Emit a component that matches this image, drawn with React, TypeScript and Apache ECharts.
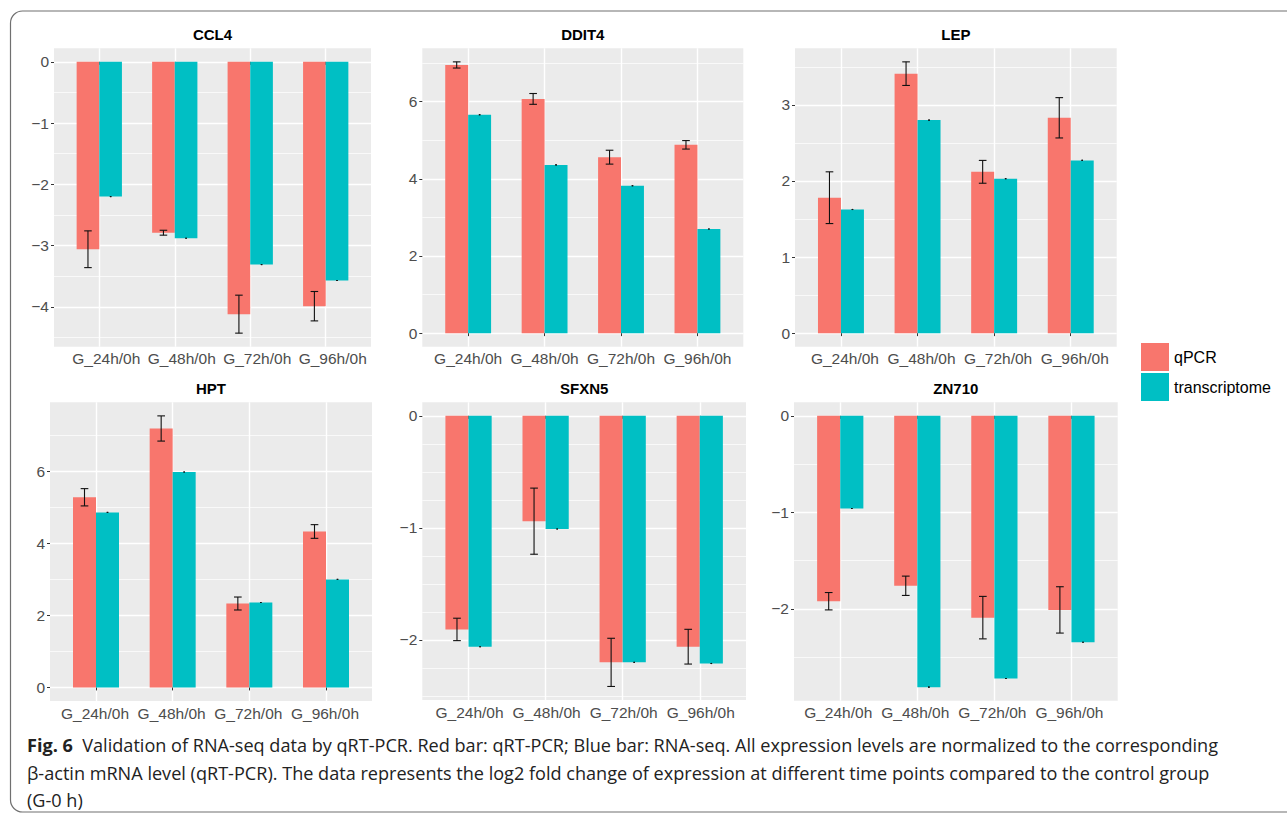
import React, { useEffect, useRef } from "react";
import * as echarts from "echarts";

// ---------- data ----------
const categories = ["G_24h/0h", "G_48h/0h", "G_72h/0h", "G_96h/0h"];
const genes = ["CCL4", "DDIT4", "LEP", "HPT", "SFXN5", "ZN710"];

const ccl4Qpcr = [-3.06, -2.79, -4.12, -3.99];
const ccl4Sd = [0.3, 0.04, 0.31, 0.24];
const ccl4Trans = [-2.2, -2.88, -3.31, -3.57];

const ddit4Qpcr = [6.95, 6.07, 4.56, 4.88];
const ddit4Sd = [0.08, 0.14, 0.18, 0.11];
const ddit4Trans = [5.66, 4.36, 3.82, 2.7];

const lepQpcr = [1.78, 3.41, 2.12, 2.83];
const lepSd = [0.34, 0.155, 0.15, 0.265];
const lepTrans = [1.625, 2.8, 2.03, 2.27];

const hptQpcr = [5.28, 7.19, 2.33, 4.33];
const hptSd = [0.24, 0.35, 0.18, 0.19];
const hptTrans = [4.86, 5.98, 2.36, 3.0];

const sfxn5Qpcr = [-1.906, -0.94, -2.2, -2.06];
const sfxn5Sd = [0.1, 0.295, 0.215, 0.155];
const sfxn5Trans = [-2.06, -1.01, -2.2, -2.21];

const zn710Qpcr = [-1.92, -1.76, -2.09, -2.01];
const zn710Sd = [0.09, 0.1, 0.22, 0.24];
const zn710Trans = [-0.96, -2.81, -2.72, -2.345];

const ccl4Ticks = [0, -1, -2, -3, -4];
const ccl4Minor = [-0.5, -1.5, -2.5, -3.5, -4.5];
const ddit4Ticks = [0, 2, 4, 6];
const ddit4Minor = [1, 3, 5, 7];
const lepTicks = [0, 1, 2, 3];
const lepMinor = [0.5, 1.5, 2.5, 3.5];
const hptTicks = [0, 2, 4, 6];
const hptMinor = [1, 3, 5, 7];
const sfxn5Ticks = [0, -1, -2];
const sfxn5Minor = [-0.25, -0.5, -0.75, -1.25, -1.5, -1.75, -2.25, -2.5];
const zn710Ticks = [0, -1, -2];
const zn710Minor = [-0.5, -1.5, -2.5];

const captionLine1Bold = "Fig. 6";
const captionLine1 =
  "Validation of RNA-seq data by qRT-PCR. Red bar: qRT-PCR; Blue bar: RNA-seq. All expression levels are normalized to the corresponding";
const captionLine2 =
  "\u03B2-actin mRNA level (qRT-PCR). The data represents the log2 fold change of expression at different time points compared to the control group";
const captionLine3 = "(G-0 h)";

// ---------- layout / style ----------
const panels = [
  { q: ccl4Qpcr, sd: ccl4Sd, t: ccl4Trans, ticks: ccl4Ticks, minor: ccl4Minor },
  { q: ddit4Qpcr, sd: ddit4Sd, t: ddit4Trans, ticks: ddit4Ticks, minor: ddit4Minor },
  { q: lepQpcr, sd: lepSd, t: lepTrans, ticks: lepTicks, minor: lepMinor },
  { q: hptQpcr, sd: hptSd, t: hptTrans, ticks: hptTicks, minor: hptMinor },
  { q: sfxn5Qpcr, sd: sfxn5Sd, t: sfxn5Trans, ticks: sfxn5Ticks, minor: sfxn5Minor },
  { q: zn710Qpcr, sd: zn710Sd, t: zn710Trans, ticks: zn710Ticks, minor: zn710Minor },
];

const gridPos = [
  { left: 54, top: 48.3, width: 317, height: 298.4 },
  { left: 422.3, top: 48.3, width: 321, height: 298.4 },
  { left: 795, top: 48.3, width: 321.7, height: 298.4 },
  { left: 50, top: 402.3, width: 322, height: 298.7 },
  { left: 422.3, top: 402.3, width: 323.7, height: 297.7 },
  { left: 794, top: 402.3, width: 323.7, height: 298.4 },
];
// horizontal shift of x labels relative to their ticks (px), as in the reference
const xLabelShift = [7, 0, 4, -1, 1, -2];

const RED = "#F8766D";
const TEAL = "#00BFC4";
const FONT = "'Liberation Sans', Arial, Helvetica, sans-serif";
const BAR_W = 0.3;
const LABEL_SIZE = 15.5;

const fmt = (v: number) => (v < 0 ? "\u2212" + Math.abs(v) : String(v));

function barRender(offset: number, color: string) {
  return (params: any, api: any) => {
    const x = api.value(0);
    const y = api.value(1);
    const a = api.coord([x + offset, 0]);
    const b = api.coord([x + offset + BAR_W, y]);
    return {
      type: "rect",
      shape: {
        x: Math.min(a[0], b[0]),
        y: Math.min(a[1], b[1]),
        width: Math.abs(b[0] - a[0]),
        height: Math.abs(b[1] - a[1]),
      },
      style: { fill: color },
    };
  };
}

function errRender(offset: number, hw: number, vertical: boolean) {
  return (params: any, api: any) => {
    const x = api.value(0) + offset;
    const m = api.value(1);
    const s = api.value(2);
    const top = api.coord([x, m + s]);
    const bot = api.coord([x, m - s]);
    const l = api.coord([x - hw, m]);
    const r = api.coord([x + hw, m]);
    const style = { stroke: "#111", lineWidth: 1.1 };
    const children: any[] = [
      { type: "line", shape: { x1: l[0], y1: top[1], x2: r[0], y2: top[1] }, style },
      { type: "line", shape: { x1: l[0], y1: bot[1], x2: r[0], y2: bot[1] }, style },
    ];
    if (vertical)
      children.push({ type: "line", shape: { x1: top[0], y1: top[1], x2: bot[0], y2: bot[1] }, style });
    return { type: "group", children };
  };
}

export default function App() {
  const ref = useRef<HTMLDivElement>(null);
  useEffect(() => {
    if (!ref.current) return;
    const chart = echarts.init(ref.current, undefined, { renderer: "svg" });

    const grids: any[] = [];
    const xAxes: any[] = [];
    const yAxes: any[] = [];
    const series: any[] = [];
    const graphics: any[] = [];

    panels.forEach((p, i) => {
      const lo = Math.min(0, ...p.q.map((v, k) => v - p.sd[k]), ...p.t);
      const hi = Math.max(0, ...p.q.map((v, k) => v + p.sd[k]), ...p.t);
      const ex = (hi - lo) * 0.05;
      const g = gridPos[i];
      const sh = xLabelShift[i];
      grids.push({ ...g, show: true, backgroundColor: "#EBEBEB", borderWidth: 0, containLabel: false });
      xAxes.push({
        type: "value",
        gridIndex: i,
        min: 0.4,
        max: 4.6,
        position: "bottom",
        axisLine: { show: false },
        axisTick: { show: true, length: 3, customValues: [1, 2, 3, 4], lineStyle: { color: "#333", width: 1 } },
        axisLabel: {
          customValues: [1, 2, 3, 4],
          formatter: (v: number) => categories[Math.round(v) - 1],
          fontSize: LABEL_SIZE,
          fontFamily: FONT,
          color: "#4D4D4D",
          margin: 4,
          padding: [0, sh < 0 ? -2 * sh : 0, 0, sh > 0 ? 2 * sh : 0],
        },
        splitLine: { show: true, lineStyle: { color: "#FFFFFF", width: 1.4 } },
      });
      yAxes.push({
        type: "value",
        gridIndex: i,
        min: lo - ex,
        max: hi + ex,
        position: "left",
        axisLine: { show: false },
        axisTick: { show: true, length: 3, customValues: p.ticks, lineStyle: { color: "#333", width: 1 } },
        axisLabel: {
          customValues: p.ticks,
          formatter: (v: number) => fmt(v),
          fontSize: LABEL_SIZE,
          fontFamily: FONT,
          color: "#4D4D4D",
          margin: 5,
        },
        splitLine: { show: true, lineStyle: { color: "#FFFFFF", width: 1.4 } },
      });
      yAxes.push({
        type: "value",
        gridIndex: i,
        min: lo - ex,
        max: hi + ex,
        position: "left",
        axisLine: { show: false },
        axisTick: { show: false, customValues: p.minor },
        axisLabel: { show: false },
        splitLine: { show: true, lineStyle: { color: "#FFFFFF", width: 0.7 } },
      });
      const yIdx = i * 2;
      series.push({
        type: "custom",
        name: "qPCR",
        xAxisIndex: i,
        yAxisIndex: yIdx,
        itemStyle: { color: RED },
        encode: { x: 0, y: 1 },
        data: p.q.map((v, k) => [k + 1, v]),
        renderItem: barRender(-BAR_W, RED),
        z: 2,
      });
      series.push({
        type: "custom",
        name: "transcriptome",
        xAxisIndex: i,
        yAxisIndex: yIdx,
        itemStyle: { color: TEAL },
        encode: { x: 0, y: 1 },
        data: p.t.map((v, k) => [k + 1, v]),
        renderItem: barRender(0, TEAL),
        z: 2,
      });
      series.push({
        type: "custom",
        name: "qPCR error",
        xAxisIndex: i,
        yAxisIndex: yIdx,
        encode: { x: 0, y: 1 },
        data: p.q.map((v, k) => [k + 1, v, p.sd[k]]),
        renderItem: errRender(-BAR_W / 2, 0.05, true),
        z: 3,
      });
      series.push({
        type: "custom",
        name: "transcriptome error",
        xAxisIndex: i,
        yAxisIndex: yIdx,
        encode: { x: 0, y: 1 },
        data: p.t.map((v, k) => [k + 1, v, 0]),
        renderItem: errRender(BAR_W / 2, 0.01, false),
        z: 3,
      });
      graphics.push({
        type: "text",
        x: g.left + g.width / 2,
        y: g.top - 13.5,
        style: {
          text: genes[i],
          fontSize: 15,
          fontWeight: "bold",
          fontFamily: FONT,
          fill: "#000",
          align: "center",
          verticalAlign: "middle",
        },
      });
    });

    // frame
    graphics.push({
      type: "rect",
      shape: { x: 10.5, y: 11, width: 1320, height: 801, r: 12 },
      style: { fill: "none", stroke: "#707070", lineWidth: 1.2 },
      z: -1,
    });
    const capFont = "'Open Sans', 'Noto Sans', sans-serif";
    const capSize = 18.1;
    graphics.push({
      type: "text",
      x: 27,
      y: 745,
      style: {
        text: "{b|" + captionLine1Bold + "}  " + captionLine1,
        fontSize: capSize,
        fontFamily: capFont,
        fill: "#222",
        verticalAlign: "middle",
        rich: { b: { fontWeight: "bold", fontSize: capSize, fontFamily: capFont, fill: "#222" } },
      },
    });
    graphics.push({
      type: "text",
      x: 27,
      y: 772.5,
      style: { text: captionLine2, fontSize: capSize, fontFamily: capFont, fill: "#222", verticalAlign: "middle" },
    });
    graphics.push({
      type: "text",
      x: 27,
      y: 800,
      style: { text: captionLine3, fontSize: capSize, fontFamily: capFont, fill: "#222", verticalAlign: "middle" },
    });

    chart.setOption({
      animation: false,
      backgroundColor: "#FFFFFF",
      grid: grids,
      xAxis: xAxes,
      yAxis: yAxes,
      series,
      legend: {
        data: ["qPCR", "transcriptome"],
        orient: "vertical",
        left: 1141,
        top: 343,
        padding: 0,
        itemWidth: 28,
        itemHeight: 28,
        itemGap: 2,
        icon: "rect",
        selectedMode: false,
        textStyle: { fontSize: 16, fontFamily: FONT, color: "#000" },
      },
      graphic: graphics,
    });
    return () => chart.dispose();
  }, []);
  return (
    <div
      ref={ref}
      style={{ position: "absolute", left: 0, top: 0, width: 1287, height: 816 }}
    />
  );
}
